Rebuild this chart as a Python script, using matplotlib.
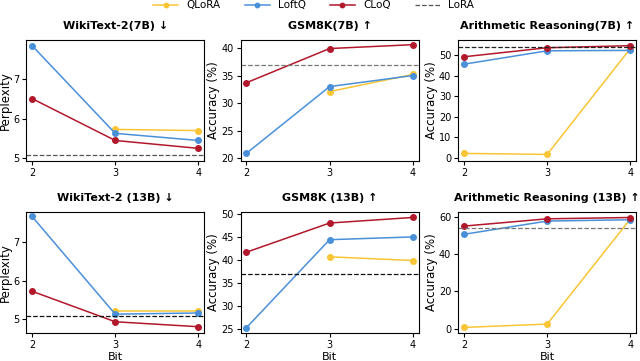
import numpy as np
import matplotlib
matplotlib.use("Agg")
import matplotlib.pyplot as plt


bits = [2, 3, 4]
bits_q = [3, 4]

titles = [
    "WikiText-2(7B) ↓", "GSM8K(7B) ↑", "Arithmetic Reasoning(7B) ↑",
    "WikiText-2 (13B) ↓", "GSM8K (13B) ↑", "Arithmetic Reasoning (13B) ↑",
]
ylabels = ["Perplexity", "Accuracy (%)", "Accuracy (%)",
           "Perplexity", "Accuracy (%)", "Accuracy (%)"]

qlora = [
    [5.73, 5.70],
    [32.1, 35.2],
    [2.2, 1.7, 53.2],
    [5.21, 5.21],
    [40.7, 39.9],
    [0.6, 2.4, 58.7],
]
loftq = [
    [7.85, 5.63, 5.45],
    [20.9, 33.0, 35.0],
    [45.6, 52.1, 52.3],
    [7.68, 5.12, 5.15],
    [25.4, 44.4, 45.0],
    [50.5, 57.6, 58.3],
]
cloq = [
    [6.51, 5.45, 5.25],
    [33.7, 39.9, 40.6],
    [49.2, 53.6, 54.6],
    [5.72, 4.92, 4.79],
    [41.7, 48.0, 49.2],
    [54.9, 58.8, 59.5],
]
lora = [5.08, 36.9, 53.9, 5.08, 36.9, 53.8]

yticks = [
    [5, 6, 7],
    [20, 25, 30, 35, 40],
    [0, 10, 20, 30, 40, 50],
    [5, 6, 7],
    [25, 30, 35, 40, 45, 50],
    [0, 20, 40, 60],
]
ylims = [(4.93, 8.0), (19.5, 41.5), (-1.5, 57.5), (4.62, 7.8), (24.2, 50.4), (-2.5, 62.5)]
lora_colors = ["#555555", "#777777", "#222222", "#111111", "#111111", "#777777"]

C_Q = "#f9c535"
C_L = "#4a90d9"
C_C = "#b2182b"

plt.rcParams["font.size"] = 7
fig = plt.figure(figsize=(6.4, 3.61), dpi=100)

lefts = [0.041, 0.376, 0.716]
bottoms = [0.554, 0.077]
w, h = 0.278, 0.336

for i in range(6):
    r, c = divmod(i, 3)
    ax = fig.add_axes([lefts[c], bottoms[r], w, h])
    xq = bits if len(qlora[i]) == 3 else bits_q
    ax.plot(xq, qlora[i], "-o", color=C_Q, lw=1.1, ms=4, label="QLoRA")
    ax.plot(bits, loftq[i], "-o", color=C_L, lw=1.1, ms=4, label="LoftQ")
    ax.plot(bits, cloq[i], "-o", color=C_C, lw=1.1, ms=4, label="CLoQ")
    ax.axhline(lora[i], color=lora_colors[i], ls="--", lw=0.9, label="LoRA")
    ax.set_xticks(bits)
    ax.set_yticks(yticks[i])
    ax.set_ylim(*ylims[i])
    ax.set_xlim(1.93, 4.07)
    ax.set_title(titles[i], fontsize=8, fontweight="bold", pad=8)
    ax.set_ylabel(ylabels[i], fontsize=8.5, labelpad=1)
    ax.tick_params(labelsize=7, pad=2, length=3)
    if r == 1:
        ax.set_xlabel("Bit", fontsize=8, labelpad=1)
    if i == 0:
        handles, labels = ax.get_legend_handles_labels()

fig.legend(handles, labels, loc="upper center", bbox_to_anchor=(0.49, 1.025),
           ncol=4, frameon=False, fontsize=7.5, markerscale=0.8,
           handlelength=2.4, handletextpad=0.8, columnspacing=2.3)

fig.savefig("out.png", dpi=100)
